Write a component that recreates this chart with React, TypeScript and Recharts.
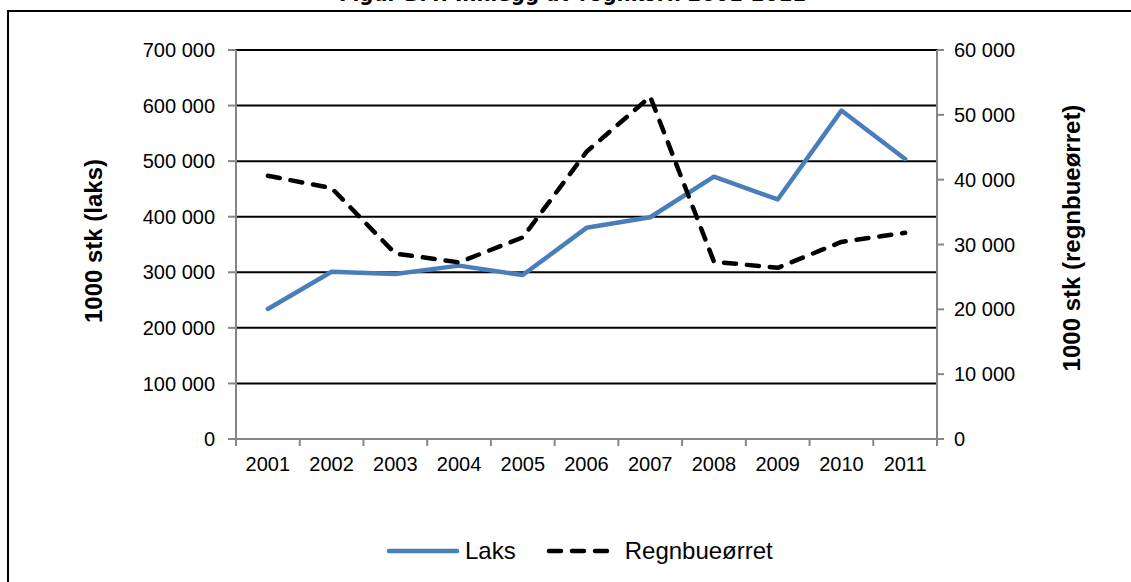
import React from 'react';
import { ComposedChart, Line, XAxis, YAxis, CartesianGrid, Legend } from 'recharts';

const years = ['2001', '2002', '2003', '2004', '2005', '2006', '2007', '2008', '2009', '2010', '2011'];
const laks = [234000, 301000, 297000, 312000, 295000, 380000, 399000, 472000, 431000, 591000, 504000];
const regnbueorret = [40600, 38700, 28600, 27250, 31100, 44300, 52800, 27350, 26400, 30400, 31800];
const leftTicks = [0, 100000, 200000, 300000, 400000, 500000, 600000, 700000];
const rightTicks = [0, 10000, 20000, 30000, 40000, 50000, 60000];
const seriesNames = ['Laks', 'Regnbueørret'];
const titleText = 'Figur B.4. Innlegg av rognkorn 2001-2011';
const leftAxisTitle = '1000 stk (laks)';
const rightAxisTitle = '1000 stk (regnbueørret)';

const data = years.map((y, i) => ({ year: y, laks: laks[i], regn: regnbueorret[i] }));

const FONT = "'Liberation Sans', Arial, sans-serif";
const AXIS_GRAY = '#868686';
const BLUE = '#4A7EBB';
const X_TICK_MARGIN = 18;
const X_TICK_LEN = 7;

const fmt = (v: number) => String(v).replace(/\B(?=(\d{3})+(?!\d))/g, ' ');

const renderLegend = () => (
  <div style={{ display: 'flex', justifyContent: 'flex-start', alignItems: 'center', fontFamily: FONT, fontSize: 24, color: '#000', paddingLeft: 386, height: 40, boxSizing: 'border-box' }}>
    <svg width={74} height={10} style={{ marginRight: 5 }}>
      <line x1={3} y1={5} x2={71} y2={5} stroke={BLUE} strokeWidth={4.5} strokeLinecap="round" />
    </svg>
    <span style={{ marginRight: 29 }}>{seriesNames[0]}</span>
    <svg width={66} height={10} style={{ marginRight: 14 }}>
      <line x1={4} y1={5} x2={62} y2={5} stroke="#000" strokeWidth={4.5} strokeDasharray="12 11" strokeLinecap="round" />
    </svg>
    <span>{seriesNames[1]}</span>
  </div>
);

const CatTick = (props: any) => {
  const { x, y, payload, index, visibleTicksCount } = props;
  const half = payload && typeof payload.offset === 'number' && payload.offset > 0 ? payload.offset : (937 - 236) / years.length / 2;
  const axisY = y - X_TICK_MARGIN;
  const isLast = index === (visibleTicksCount ?? years.length) - 1;
  return (
    <g>
      <line x1={x - half} y1={axisY} x2={x - half} y2={axisY + X_TICK_LEN} stroke={AXIS_GRAY} strokeWidth={2} />
      {isLast && <line x1={x + half} y1={axisY} x2={x + half} y2={axisY + X_TICK_LEN} stroke={AXIS_GRAY} strokeWidth={2} />}
      <text x={x} y={y} dy="0.71em" textAnchor="middle" fill="#000" fontSize={20} fontFamily={FONT}>
        {payload.value}
      </text>
    </g>
  );
};

export default function App() {
  return (
    <div style={{ position: 'absolute', left: 0, top: 0, width: 1131, height: 582, background: '#fff', overflow: 'hidden' }}>
      <div style={{ position: 'absolute', left: 0, top: -17, width: 1131, textAlign: 'center', paddingLeft: 14, boxSizing: 'border-box', fontFamily: "'Liberation Sans Narrow', 'DejaVu Sans Condensed', sans-serif", fontWeight: 'bold', fontSize: 22, lineHeight: '22px', color: '#000', whiteSpace: 'nowrap' }}>
        {titleText}
      </div>
      <div style={{ position: 'absolute', left: 7, top: 10, width: 1200, height: 700, borderLeft: '2.5px solid #000', borderTop: '2px solid #000', boxSizing: 'border-box' }} />
      <div style={{ position: 'absolute', left: 0, top: 0 }}>
        <ComposedChart width={1131} height={582} data={data} margin={{ top: 50, right: 0, left: 0, bottom: 63 }}>
          <CartesianGrid yAxisId="left" xAxisId="cat" horizontal={true} vertical={false} stroke="#000" strokeWidth={2} />
          <XAxis
            xAxisId="cat"
            dataKey="year"
            type="category"
            scale="band"
            height={40}
            axisLine={{ stroke: AXIS_GRAY, strokeWidth: 2 }}
            tickLine={false}
            tickSize={0}
            tickMargin={X_TICK_MARGIN}
            interval={0}
            tick={CatTick}
          />
          <YAxis
            yAxisId="left"
            orientation="left"
            width={236}
            domain={[0, 700000]}
            ticks={leftTicks}
            tickFormatter={fmt}
            interval={0}
            axisLine={{ stroke: AXIS_GRAY, strokeWidth: 2 }}
            tickLine={{ stroke: AXIS_GRAY, strokeWidth: 2 }}
            tickSize={8}
            tickMargin={13}
            tick={{ fill: '#000', fontSize: 20, fontFamily: FONT }}
            label={{
              content: () => (
                <text x={93} y={241} transform="rotate(-90, 93, 241)" textAnchor="middle" dominantBaseline="central" fontFamily={FONT} fontWeight="bold" fontSize={24} fill="#000">
                  {leftAxisTitle}
                </text>
              ),
            }}
          />
          <YAxis
            yAxisId="right"
            orientation="right"
            width={194}
            domain={[0, 60000]}
            ticks={rightTicks}
            tickFormatter={fmt}
            interval={0}
            axisLine={{ stroke: AXIS_GRAY, strokeWidth: 2 }}
            tickLine={{ stroke: AXIS_GRAY, strokeWidth: 2 }}
            tickSize={7}
            tickMargin={10}
            tick={{ fill: '#000', fontSize: 20, fontFamily: FONT, textAnchor: 'start' }}
            label={{
              content: () => (
                <text x={1071} y={238} transform="rotate(-90, 1071, 238)" textAnchor="middle" dominantBaseline="central" fontFamily={FONT} fontWeight="bold" fontSize={24} fill="#000">
                  {rightAxisTitle}
                </text>
              ),
            }}
          />
          <Legend verticalAlign="bottom" height={40} content={renderLegend} wrapperStyle={{ top: 531, left: 0, width: 1131 }} />
          <Line
            xAxisId="cat"
            yAxisId="left"
            type="linear"
            dataKey="laks"
            name={seriesNames[0]}
            stroke={BLUE}
            strokeWidth={4.5}
            strokeLinejoin="round"
            strokeLinecap="round"
            dot={false}
            activeDot={false}
            isAnimationActive={false}
          />
          <Line
            xAxisId="cat"
            yAxisId="right"
            type="linear"
            dataKey="regn"
            name={seriesNames[1]}
            stroke="#000"
            strokeWidth={4.5}
            strokeDasharray="12 11"
            strokeLinejoin="round"
            strokeLinecap="round"
            dot={false}
            activeDot={false}
            isAnimationActive={false}
          />
        </ComposedChart>
      </div>
    </div>
  );
}
